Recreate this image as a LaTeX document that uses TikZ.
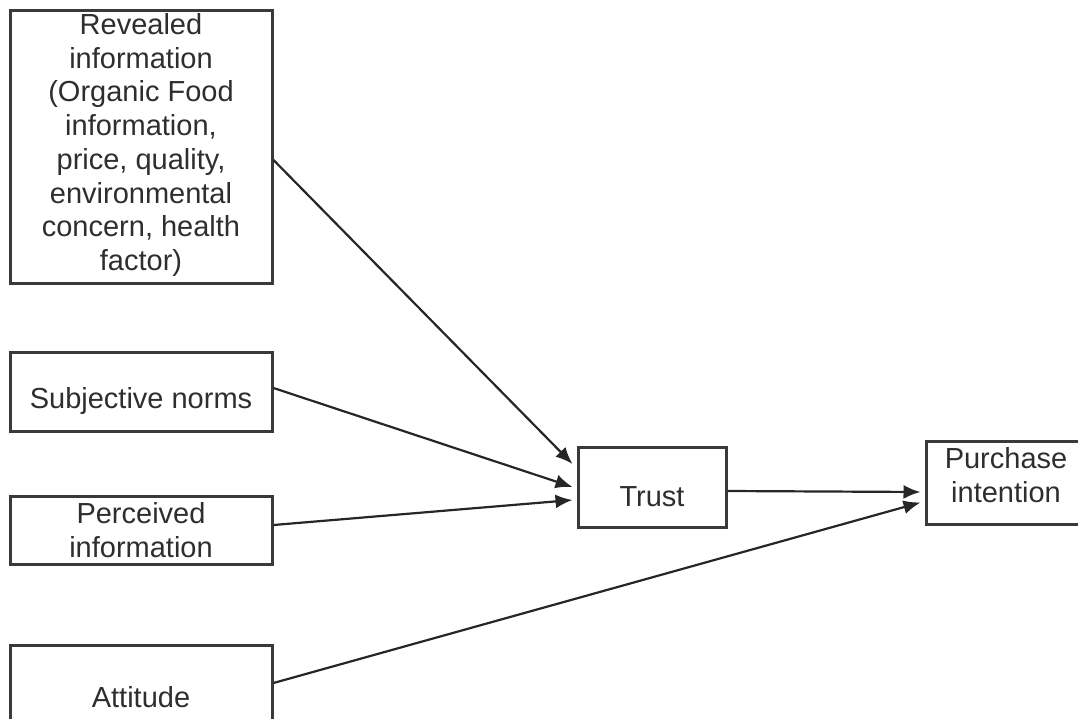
\documentclass[tikz,border=0pt]{standalone}
\usepackage{fontspec}
\setmainfont{Liberation Sans}
\usetikzlibrary{arrows.meta,calc}
\definecolor{boxc}{HTML}{3A3A3A}
\definecolor{txtc}{HTML}{2E2E2E}
\begin{document}
\begin{tikzpicture}[x=1pt,y=-1pt,
  box/.style={draw=boxc,line width=3pt,rectangle,inner sep=0pt},
  lbl/.style={text=txtc,align=center,inner sep=0pt,font=\fontsize{29}{33.7}\selectfont},
  conn/.style={draw=black!85,line width=2.2pt,-{Latex[length=17pt,width=14pt]}}]
\useasboundingbox (0,0) rectangle (1078,719);
\clip (0,0) rectangle (1078,719);
% boxes
\node[box,minimum width=262pt,minimum height=272pt] (rev) at (141,147) {};
\node[box,minimum width=262pt,minimum height=79pt] (sub) at (141,391.5) {};
\node[box,minimum width=262pt,minimum height=68pt] (per) at (141,530) {};
\node[box,minimum width=262pt,minimum height=104pt] (att) at (141,697) {};
\node[box,minimum width=148pt,minimum height=80pt] (trust) at (652,487) {};
\node[box,minimum width=162pt,minimum height=83pt] (pur) at (1007,482.5) {};
% texts
\node[lbl] (revt) at (141,145) {Revealed\\information\\(Organic Food\\information,\\price, quality,\\environmental\\concern, health\\factor)};
\node[lbl] (subt) at (141,401) {Subjective norms};
\node[lbl] (pert) at (141,530) {Perceived\\information};
\node[lbl] (attt) at (141,697) {Attitude};
\node[lbl] (trustt) at (652,497) {Trust};
\node[lbl] (purt) at (1006,475) {Purchase\\intention};
% connectors
\coordinate (t1) at ($(trust.west)+(-4,-23)$);
\coordinate (t2) at ($(trust.west)+(-4,0)$);
\coordinate (t3) at ($(trust.west)+(-4,13)$);
\coordinate (p1) at ($(pur.west)+(-4,9.5)$);
\coordinate (p2) at ($(pur.west)+(-4,20)$);
\draw[conn] ($(rev.east)+(0,13)$) -- (t1);
\draw[conn] ($(sub.east)+(0,-3.5)$) -- (t2);
\draw[conn] ($(per.east)+(0,-5)$) -- (t3);
\draw[conn] ($(trust.east)+(0,4)$) -- (p1);
\draw[conn] ($(att.east)+(0,-14)$) -- (p2);
\end{tikzpicture}
\end{document}
